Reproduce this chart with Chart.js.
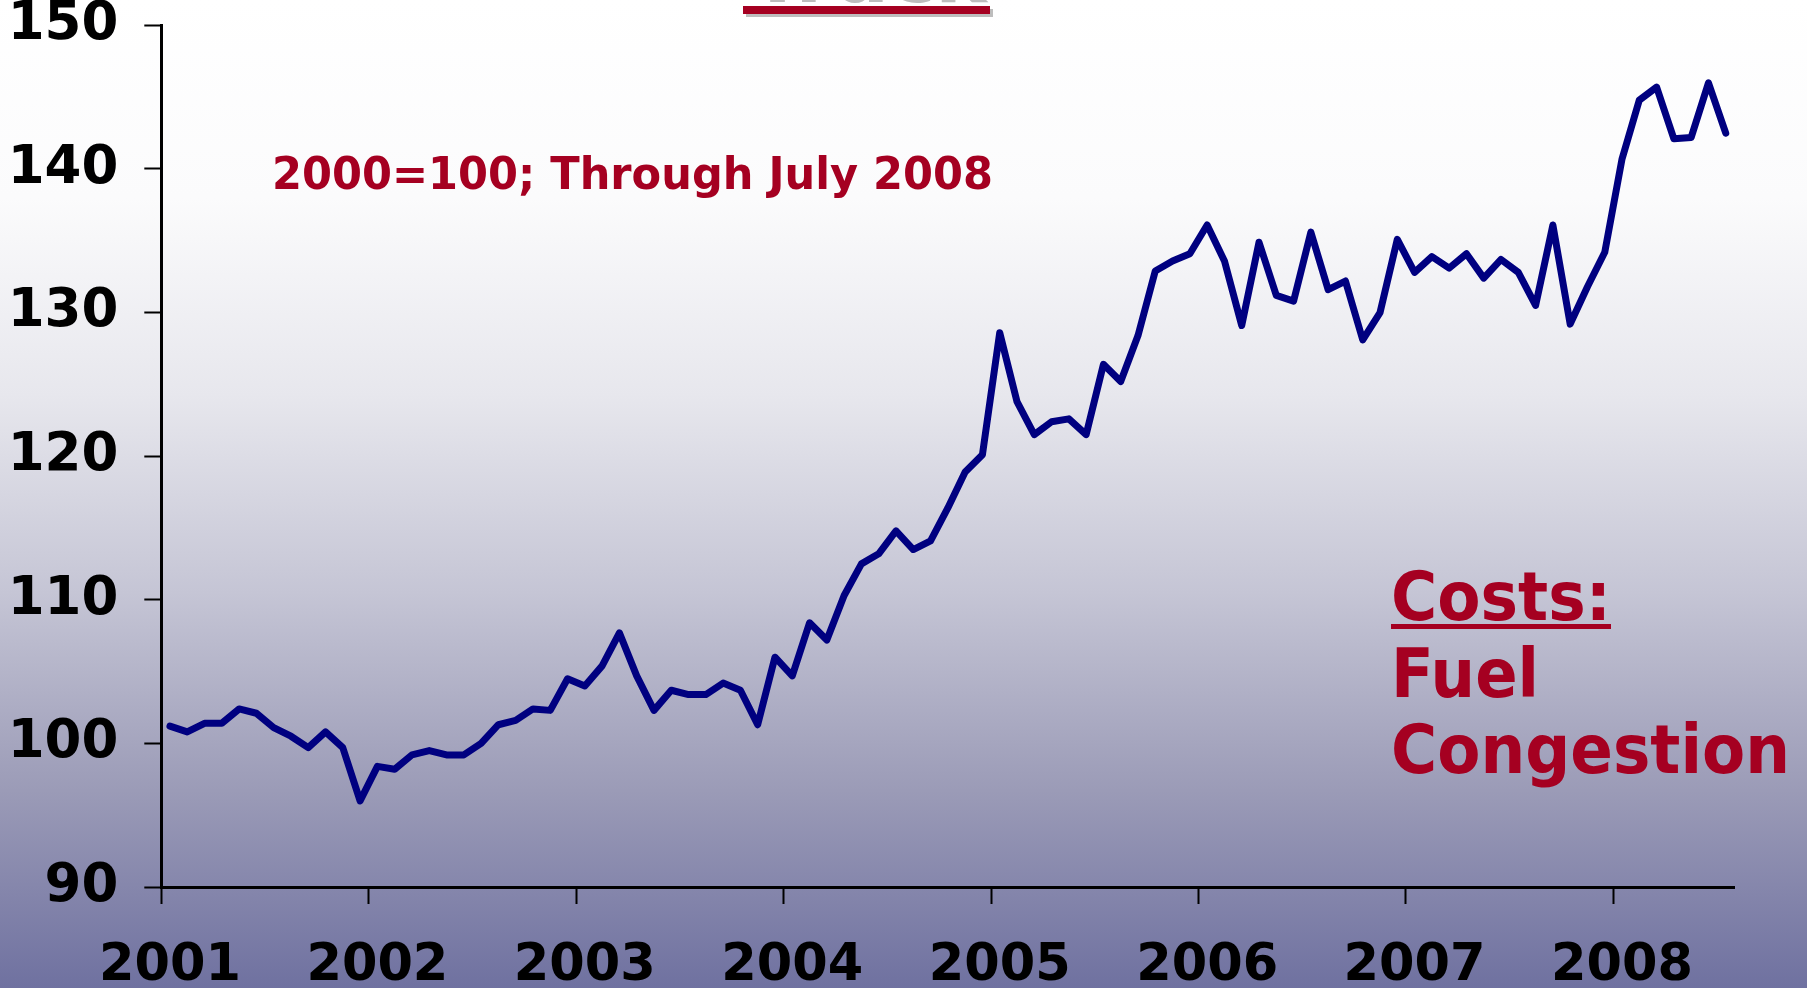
<!DOCTYPE html>
<html>
<head>
<meta charset="utf-8">
<script src="https://cdn.jsdelivr.net/npm/chart.js@4.4.0/dist/chart.umd.min.js"></script>
<style>
    html, body { margin: 0; padding: 0; }
    #wrap {
        width: 1807px; height: 988px; position: relative;
        background: linear-gradient(to bottom, #ffffff 0%, #fbfbfc 20%, #e7e7ed 40%, #c5c5d5 60%, #9b9bb7 80%, #6f71a0 100%);
    }
</style>
</head>
<body>
<div id="wrap"><canvas id="truckChart"></canvas></div>
<script>
const years = ['2001', '2002', '2003', '2004', '2005', '2006', '2007', '2008'];
const monthNames = ['Jan', 'Feb', 'Mar', 'Apr', 'May', 'Jun', 'Jul', 'Aug', 'Sep', 'Oct', 'Nov', 'Dec'];

// index, 2000=100, monthly Jan 2001 .. Jul 2008
const truckIndex = [
    101.2, 100.8, 101.4, 101.4, 102.4, 102.1, 101.1, 100.5, 99.7, 100.8, 99.7, 96.0,
    98.4, 98.2, 99.2, 99.5, 99.2, 99.2, 100.0, 101.3, 101.6, 102.4, 102.3, 104.5,
    104.0, 105.4, 107.7, 104.7, 102.3, 103.7, 103.4, 103.4, 104.2, 103.7, 101.3, 106.0,
    104.7, 108.4, 107.2, 110.3, 112.5, 113.2, 114.8, 113.5, 114.1, 116.4, 118.9, 120.1,
    128.6, 123.8, 121.5, 122.4, 122.6, 121.5, 126.4, 125.2, 128.4, 132.9, 133.6, 134.1,
    136.1, 133.6, 129.1, 134.9, 131.2, 130.8, 135.6, 131.6, 132.2, 128.1, 130.0, 135.1,
    132.8, 133.9, 133.1, 134.1, 132.4, 133.7, 132.8, 130.5, 136.1, 129.2, 131.8, 134.2,
    140.7, 144.8, 145.7, 142.1, 142.2, 146.0, 142.5
];

const yMin = 90, yMax = 150, yStep = 10;

const categories = [];
years.forEach(y => monthNames.forEach(m => categories.push(m + ' ' + y)));
const labels = categories.slice(0, truckIndex.length);

const red = '#a50021';
const font = '"DejaVu Sans", Verdana, sans-serif';

// draw text stretched/squeezed to a given width
function fitText(c, text, x, y, width, size) {
    c.font = 'bold ' + size + 'px ' + font;
    const w = c.measureText(text).width;
    c.save();
    c.translate(x, y);
    c.scale(width / w, 1);
    c.textAlign = 'left';
    c.textBaseline = 'alphabetic';
    c.fillText(text, 0, 0);
    c.restore();
}

const annotations = {
    id: 'annotations',
    afterDraw(chart) {
        const c = chart.ctx;
        c.save();

        // title, mostly cut off at the top
        c.fillStyle = '#bdbdbd';
        fitText(c, 'Truck', 751, 2, 236, 72);
        c.fillRect(746, 9, 247, 8);
        c.fillStyle = red;
        fitText(c, 'Truck', 748, -1, 236, 72);
        c.fillRect(743, 6, 247, 8);

        fitText(c, '2000=100; Through July 2008', 272, 189, 721, 44);

        fitText(c, 'Costs:', 1391, 620, 220, 68);
        c.fillRect(1391, 624, 220, 5);
        fitText(c, 'Fuel', 1391, 697, 148, 68);
        fitText(c, 'Congestion', 1391, 773, 399, 68);

        c.restore();
    }
};

const ctx = document.getElementById('truckChart').getContext('2d');
new Chart(ctx, {
    type: 'line',
    data: {
        labels: labels,
        datasets: [{
            data: truckIndex,
            borderColor: '#000080',
            borderWidth: 7,
            borderJoinStyle: 'round',
            borderCapStyle: 'round',
            pointRadius: 0,
            tension: 0,
            fill: false
        }]
    },
    options: {
        responsive: true,
        maintainAspectRatio: false,
        animation: false,
        layout: { padding: { top: 25.4, right: 72.6, bottom: 0, left: 0 } },
        scales: {
            x: {
                offset: true,
                afterFit: scale => { scale.height = 101; },
                border: { display: true, color: '#000', width: 3 },
                grid: {
                    offset: true,
                    drawOnChartArea: false,
                    tickLength: 17,
                    tickWidth: 2,
                    tickColor: c => (c.index % 12 === 0 ? '#000' : 'rgba(0,0,0,0)')
                },
                ticks: {
                    autoSkip: false,
                    maxRotation: 0,
                    minRotation: 0,
                    padding: 32,
                    color: '#000',
                    font: { family: font, weight: 'bold', size: 51 },
                    callback: function (value, index) {
                        return index % 12 === 0 ? years[index / 12] : '';
                    }
                }
            },
            y: {
                min: yMin,
                max: yMax,
                afterFit: scale => {
                    scale.width = 161.3;
                    scale.paddingTop = 0;
                    scale.paddingBottom = 0;
                },
                border: { display: true, color: '#000', width: 3 },
                grid: {
                    drawOnChartArea: false,
                    tickLength: 17,
                    tickWidth: 2,
                    tickColor: '#000'
                },
                ticks: {
                    stepSize: yStep,
                    padding: 26,
                    color: '#000',
                    font: { family: font, weight: 'bold', size: 53, lineHeight: 0.95 }
                }
            }
        },
        plugins: {
            legend: { display: false },
            tooltip: { enabled: false }
        }
    },
    plugins: [annotations]
});
</script>
</body>
</html>
